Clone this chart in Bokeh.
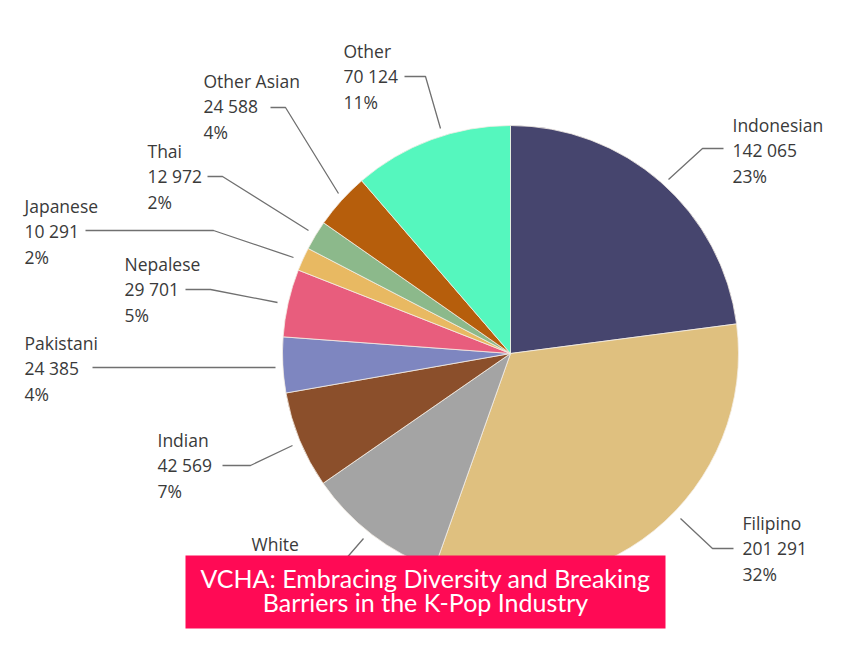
from bokeh.plotting import figure
from bokeh.models import Range1d, ColumnDataSource
from bokeh.core.properties import value
from bokeh.embed import file_html
from bokeh.resources import INLINE
import math

# ---- data ----
categories = ["Indonesian", "Filipino", "White", "Indian", "Pakistani",
              "Nepalese", "Japanese", "Thai", "Other Asian", "Other"]
counts = [142065, 201291, 61582, 42569, 24385, 29701, 10291, 12972, 24588, 70124]
colors = ["#46456e", "#dfc07f", "#a4a4a4", "#8b4f2b", "#7e86c0",
          "#e85d7d", "#e8b962", "#8cb98b", "#b65e0c", "#55f7be"]
title_lines = ["VCHA: Embracing Diversity and Breaking",
               "Barriers in the K-Pop Industry"]

# ---- layout (page pixel coordinates) ----
W, H = 834, 629
PAGE_H = 645
cx, cy, R = 510, 353, 228
label_pos = {  # left x, y of first line
    "Other": (343, 50), "Other Asian": (203, 80), "Thai": (147, 150),
    "Japanese": (24, 205), "Nepalese": (124, 263), "Pakistani": (24, 342),
    "Indian": (157, 439), "White": (251, 543), "Indonesian": (732, 124),
    "Filipino": (742, 522),
}
leaders = {
    "Other": [(404, 76), (425, 76), (440, 128)],
    "Other Asian": [(270, 107), (285, 107), (338, 193)],
    "Thai": [(207, 176), (222, 176), (308, 230)],
    "Japanese": [(85, 230), (213, 230), (293, 257)],
    "Nepalese": [(185, 289), (210, 289), (277, 302)],
    "Pakistani": [(92, 367), (275, 367)],
    "Indian": [(222, 465), (250, 465), (292, 445)],
    "White": [(314, 568), (337, 568), (363, 538)],
    "Indonesian": [(723, 148), (702, 148), (668, 179)],
    "Filipino": [(733, 548), (712, 548), (680, 518)],
}
LINE_GAP = 25.5


def fy(y):
    return PAGE_H - y


p = figure(width=W, height=H, output_backend="svg", toolbar_location=None,
           x_range=Range1d(0, W), y_range=Range1d(PAGE_H - H, PAGE_H),
           min_border=0)
p.axis.visible = False
p.grid.visible = False
p.outline_line_color = None
p.background_fill_color = "white"

total = sum(counts)
starts, ends = [], []
cum = 0.0
for c in counts:
    starts.append(math.pi / 2 - 2 * math.pi * cum / total)
    cum += c
    ends.append(math.pi / 2 - 2 * math.pi * cum / total)

src = ColumnDataSource(dict(start=starts, end=ends, color=colors))
p.wedge(x=cx, y=fy(cy), radius=R, start_angle="start", end_angle="end",
        direction="clock", fill_color="color", line_color="#f4eee4",
        line_width=0.8, source=src)

# leader lines
xs, ys = [], []
for name in categories:
    pts = leaders[name]
    xs.append([pt[0] for pt in pts])
    ys.append([fy(pt[1]) for pt in pts])
p.multi_line(xs=xs, ys=ys, line_color="#707070", line_width=1.3)

# labels
tx, ty, tt = [], [], []
for name, c in zip(categories, counts):
    x0, y0 = label_pos[name]
    lines = [name, f"{c:,}".replace(",", " "), f"{round(c / total * 100)}%"]
    for i, s in enumerate(lines):
        tx.append(x0)
        ty.append(fy(y0 + i * LINE_GAP))
        tt.append(s)
p.text(x=tx, y=ty, text=tt, text_font=value("Open Sans"), text_font_size="17.5px",
       text_color="#3a3a3a", text_baseline="middle", text_align="left")

# banner
p.quad(left=185, right=665, top=fy(555), bottom=fy(628),
       fill_color="#ff0a55", line_color=None)
p.text(x=[425, 425], y=[fy(577), fy(601)], text=title_lines,
       text_font=value("Lato"), text_font_size="25px", text_color="white",
       text_align="center", text_baseline="middle")

open("out.html", "w").write(file_html(p, INLINE))
